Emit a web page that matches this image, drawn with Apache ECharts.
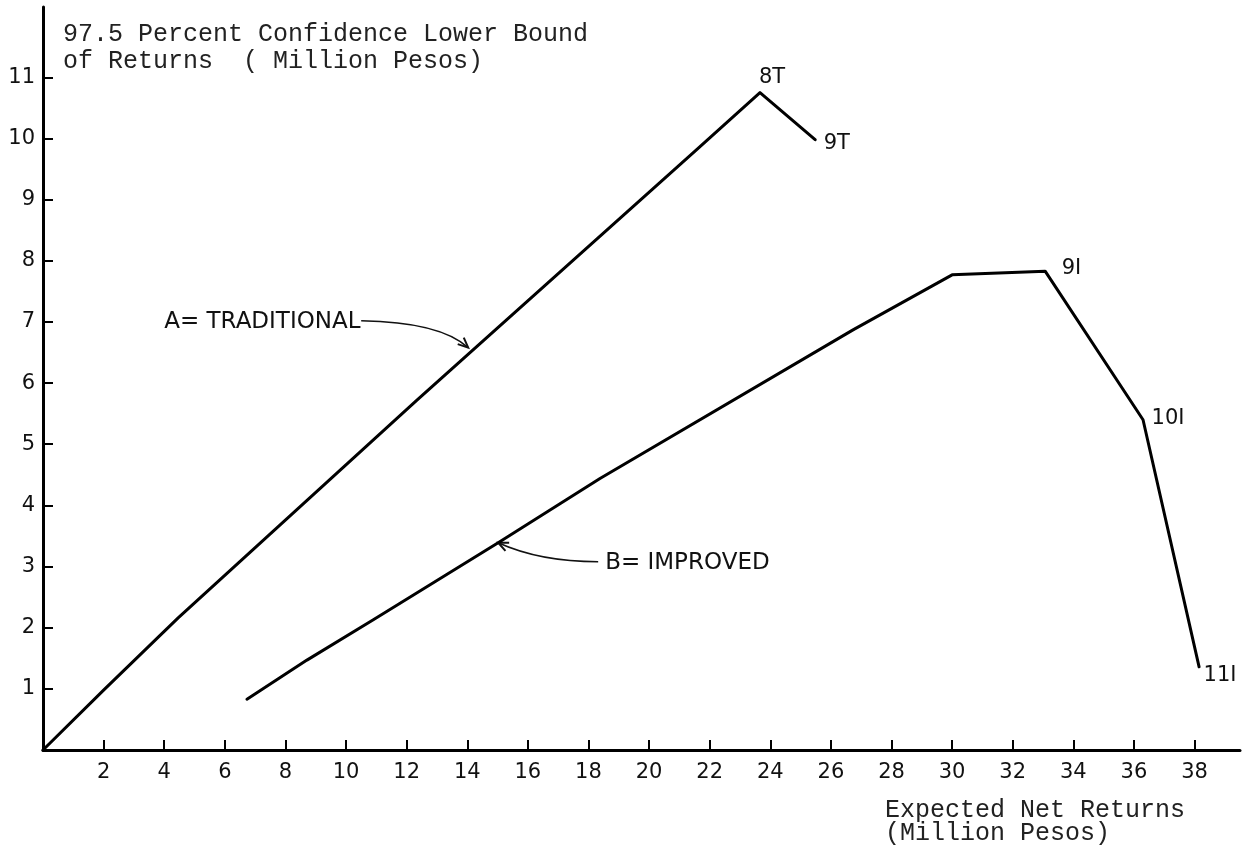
<!DOCTYPE html>
<html><head><meta charset="utf-8">
<script src="https://cdn.jsdelivr.net/npm/echarts@6/dist/echarts.min.js"></script>
<style>html,body{margin:0;padding:0;background:#fff}#c{width:1252px;height:845px}</style>
</head><body><div id="c"></div>
<script>
// ---- data ----
const xTicks = [2,4,6,8,10,12,14,16,18,20,22,24,26,28,30,32,34,36,38];
const yTicks = [1,2,3,4,5,6,7,8,9,10,11];
const traditionalX = [0, 2, 4.46, 12.34, 21.58, 23.66, 25.48];
const traditionalY = [0, 0.98, 2.16, 5.72, 9.82, 10.75, 9.98];
const traditionalLabels = ['', '', '', '', '', '8T', '9T'];
const improvedX = [6.73, 8.71, 10.9, 15.02, 18.38, 26.73, 30.0, 33.07, 36.3, 38.15];
const improvedY = [0.83, 1.47, 2.13, 3.39, 4.44, 6.87, 7.77, 7.83, 5.4, 1.36];
const improvedLabels = ['', '', '', '', '', '', '', '9I', '10I', '11I'];
const titleLines = ['97.5 Percent Confidence Lower Bound', 'of Returns  ( Million Pesos)'];
const xNameLines = ['Expected Net Returns', '(Million Pesos)'];
const annotationTexts = ['A= TRADITIONAL', 'B= IMPROVED'];

// ---- label placement (style) ----
const labelStyle = {
  '8T':  {position: 'top',   distance: 4, offset: [12, 0]},
  '9T':  {position: 'right', distance: 5, offset: [3, 4]},
  '9I':  {position: 'right', distance: 5, offset: [11, -3]},
  '10I': {position: 'right', distance: 5, offset: [3, -1]},
  '11I': {position: 'right', distance: 5, offset: [-1, 9]}
};
// annotation anchors in data units
const annotationAnchors = [
  {at: [4.0, 7.0], curve: [[10.5, 7.02], [13.1, 7.0], [14.03, 6.58]]},
  {at: [18.55, 3.06], curve: [[18.32, 3.08], [16.4, 3.08], [15.02, 3.39]]}
];

const LBL_FONT = 'DejaVu Sans';
const MONO = 'Liberation Mono';

function buildData(xs, ys, labels) {
  return xs.map((x, i) => {
    const t = labels[i];
    const item = {value: [x, ys[i]]};
    if (t) {
      item.label = Object.assign({show: true, formatter: t, fontFamily: LBL_FONT, fontSize: 21, color: '#111'}, labelStyle[t]);
    }
    return item;
  });
}

const chart = echarts.init(document.getElementById('c'), null, {renderer: 'canvas'});
const axisCommon = {
  type: 'value',
  axisLine: {show: true, onZero: false, lineStyle: {color: '#000', width: 3}},
  splitLine: {show: false}
};
chart.setOption({
  animation: false,
  backgroundColor: '#fff',
  grid: {left: 43, right: 12, top: 7, bottom: 95, containLabel: false},
  xAxis: Object.assign({}, axisCommon, {
    min: 0, max: 39.5,
    axisTick: {show: true, inside: true, length: 10, customValues: xTicks, lineStyle: {color: '#000', width: 2}},
    axisLabel: {show: true, customValues: xTicks, fontFamily: LBL_FONT, fontSize: 21, color: '#111', margin: 12}
  }),
  yAxis: Object.assign({}, axisCommon, {
    min: 0, max: 12.15,
    axisTick: {show: true, inside: true, length: 10, customValues: yTicks, lineStyle: {color: '#000', width: 2}},
    axisLabel: {show: true, customValues: yTicks, fontFamily: LBL_FONT, fontSize: 21, color: '#111', margin: 8}
  }),
  series: [
    {
      name: 'A= TRADITIONAL', type: 'line', data: buildData(traditionalX, traditionalY, traditionalLabels),
      symbol: 'circle', symbolSize: 1, showSymbol: true, itemStyle: {color: '#000'},
      lineStyle: {color: '#000', width: 3, join: 'round', cap: 'round'},
      label: {show: false}
    },
    {
      name: 'B= IMPROVED', type: 'line', data: buildData(improvedX, improvedY, improvedLabels),
      symbol: 'circle', symbolSize: 1, showSymbol: true, itemStyle: {color: '#000'},
      lineStyle: {color: '#000', width: 3, join: 'round', cap: 'round'},
      label: {show: false}
    }
  ]
});

function px(p) { return chart.convertToPixel({gridIndex: 0}, p); }
function arrowHead(tip, from) {
  const dx = tip[0] - from[0], dy = tip[1] - from[1];
  const a = Math.atan2(dy, dx), L = 11, w = 0.42;
  return [[tip[0] - L * Math.cos(a - w), tip[1] - L * Math.sin(a - w)], tip, [tip[0] - L * Math.cos(a + w), tip[1] - L * Math.sin(a + w)]];
}
const g = [];
titleLines.forEach((t, i) => g.push({type: 'text', left: 63, top: 22 + i * 27, silent: true,
  style: {text: t, font: '25px "' + MONO + '"', fill: '#222'}}));
xNameLines.forEach((t, i) => g.push({type: 'text', left: 885, top: 798 + i * 23, silent: true,
  style: {text: t, font: '25px "' + MONO + '"', fill: '#222'}}));
annotationAnchors.forEach((a, i) => {
  const p = px(a.at);
  g.push({type: 'text', x: p[0], y: p[1], silent: true,
    style: {text: annotationTexts[i], font: '23px "' + LBL_FONT + '"', fill: '#111', textVerticalAlign: 'middle', textAlign: 'left'}});
  const c = a.curve.map(px);
  g.push({type: 'bezierCurve', silent: true,
    shape: {x1: c[0][0], y1: c[0][1], cpx1: c[1][0], cpy1: c[1][1], x2: c[2][0], y2: c[2][1]},
    style: {stroke: '#111', lineWidth: 1.5, fill: null}});
  g.push({type: 'polyline', silent: true, shape: {points: arrowHead(c[2], c[1])},
    style: {stroke: '#111', lineWidth: 2, fill: null}});
});
chart.setOption({graphic: g});
</script>
</body></html>
